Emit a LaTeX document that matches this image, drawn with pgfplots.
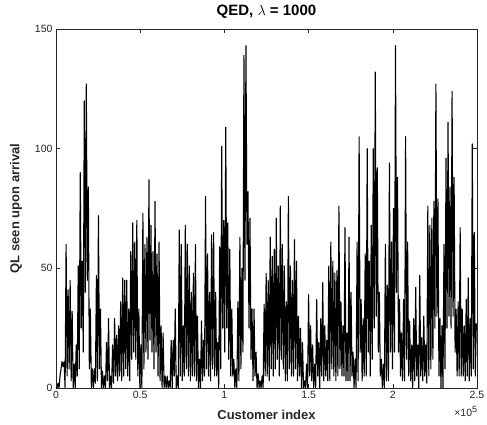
\documentclass[border=0pt]{standalone}
\usepackage{fontspec}
\setmainfont{Liberation Sans}
\usepackage{pgfplots}
\pgfplotsset{compat=1.18}
\definecolor{axgray}{gray}{0.15}
\begin{document}
\begin{tikzpicture}
\begin{axis}[name=ax, scale only axis, width=421pt, height=359pt,
  xmin=0, xmax=250000, ymin=0, ymax=150,
  xtick={0,50000,100000,150000,200000,250000},
  xticklabels={0,0.5,1,1.5,2,2.5},
  ytick={0,50,100,150},
  scaled x ticks=false,
  /pgf/number format/assume math mode=true,
  tick label style={font=\fontsize{10.5}{12}\selectfont, text=axgray},
  axis line style={axgray, line width=0.5pt},
  major tick style={axgray, line width=0.5pt},
  major tick length=4pt,
  tick align=inside,
  every axis title shift=0pt,
  title={QED, $\lambda$ = 1000},
  title style={at={(axis description cs:0.5,1.047)}, anchor=center, font=\fontsize{15}{17}\selectfont\bfseries},
  xlabel={Customer index},
  xlabel style={at={(axis description cs:0.5,-0.075)}, anchor=center, font=\fontsize{13}{15}\selectfont\bfseries, text=axgray},
  ylabel={QL seen upon arrival},
  ylabel style={at={(axis description cs:-0.095,0.5)}, anchor=center, font=\fontsize{13}{15}\selectfont\bfseries, text=axgray},
]
\addplot[black, line width=1.1pt, line join=round, mark=none] coordinates {
(0,0)(600,0)(1200,2)(1800,0)(2400,5)(3000,8)(3600,11)(4200,9)(4800,11)(5400,0)
(6000,60)(6600,5)(7200,41)(7800,8)(8400,45)(9000,3)(9600,32)(10200,0)(10800,10)(11400,0)
(12000,18)(12600,5)(13200,51)(13800,8)(14400,90)(15000,25)(15600,53)(16200,15)(16800,120)(17400,40)
(18000,127)(18600,45)(19200,84)(19800,8)(20400,33)(21000,0)(21600,8)(22200,0)(22800,8)(23400,2)
(24000,47)(24600,3)(25200,72)(25800,8)(26400,33)(27000,0)(27600,7)(28200,0)(28800,5)(29400,0)
(30000,19)(30600,3)(31200,29)(31800,0)(32400,5)(33000,0)(33600,18)(34200,2)(34800,29)(35400,5)
(36000,22)(36600,3)(37200,26)(37800,5)(38400,36)(39000,3)(39600,46)(40200,5)(40800,45)(41400,8)
(42000,45)(42600,5)(43200,33)(43800,3)(44400,57)(45000,12)(45600,69)(46200,15)(46800,61)(47400,12)
(48000,70)(48600,5)(49200,33)(49800,0)(50400,18)(51000,0)(51600,73)(52200,8)(52800,60)(53400,15)
(54000,63)(54600,12)(55200,87)(55800,20)(56400,68)(57000,15)(57600,57)(58200,8)(58800,78)(59400,15)
(60000,56)(60600,5)(61200,61)(61800,3)(62400,26)(63000,0)(63600,23)(64200,0)(64800,5)(65400,0)
(66000,5)(66600,0)(67200,3)(67800,0)(68400,20)(69000,0)(69600,20)(70200,5)(70800,33)(71400,0)
(72000,5)(72600,0)(73200,66)(73800,5)(74400,60)(75000,3)(75600,26)(76200,5)(76800,68)(77400,8)
(78000,60)(78600,5)(79200,51)(79800,3)(80400,40)(81000,5)(81600,48)(82200,5)(82800,60)(83400,3)
(84000,30)(84600,0)(85200,12)(85800,0)(86400,28)(87000,3)(87600,20)(88200,5)(88800,80)(89400,8)
(90000,56)(90600,5)(91200,40)(91800,3)(92400,64)(93000,8)(93600,65)(94200,5)(94800,40)(95400,5)
(96000,19)(96600,0)(97200,59)(97800,8)(98400,101)(99000,25)(99600,70)(100200,15)(100800,109)(101400,25)
(102000,69)(102600,12)(103200,58)(103800,5)(104400,33)(105000,5)(105600,12)(106200,0)(106800,8)(107400,0)
(108000,36)(108600,3)(109200,63)(109800,8)(110400,50)(111000,15)(111600,139)(112200,45)(112800,143)(113400,60)
(114000,82)(114600,25)(115200,71)(115800,12)(116400,33)(117000,3)(117600,33)(118200,5)(118800,15)(119400,0)
(120000,6)(120600,0)(121200,3)(121800,0)(122400,5)(123000,0)(123600,35)(124200,5)(124800,48)(125400,5)
(126000,45)(126600,3)(127200,63)(127800,8)(128400,55)(129000,5)(129600,58)(130200,8)(130800,71)(131400,12)
(132000,51)(132600,5)(133200,76)(133800,12)(134400,60)(135000,8)(135600,51)(136200,3)(136800,36)(137400,3)
(138000,80)(138600,8)(139200,51)(139800,5)(140400,45)(141000,5)(141600,62)(142200,8)(142800,53)(143400,3)
(144000,30)(144600,5)(145200,25)(145800,0)(146400,19)(147000,0)(147600,3)(148200,0)(148800,10)(149400,0)
(150000,39)(150600,5)(151200,26)(151800,3)(152400,18)(153000,0)(153600,10)(154200,0)(154800,37)(155400,5)
(156000,19)(156600,0)(157200,29)(157800,5)(158400,44)(159000,3)(159600,26)(160200,5)(160800,20)(161400,3)
(162000,51)(162600,3)(163200,61)(163800,8)(164400,53)(165000,5)(165600,48)(166200,3)(166800,49)(167400,5)
(168000,76)(168600,8)(169200,36)(169800,5)(170400,26)(171000,5)(171600,67)(172200,3)(172800,23)(173400,3)
(174000,63)(174600,3)(175200,40)(175800,5)(176400,15)(177000,0)(177600,12)(178200,0)(178800,61)(179400,3)
(180000,105)(180600,15)(181200,37)(181800,3)(182400,29)(183000,5)(183600,56)(184200,5)(184800,100)(185400,15)
(186000,53)(186600,5)(187200,68)(187800,12)(188400,100)(189000,25)(189600,132)(190200,30)(190800,92)(191400,15)
(192000,40)(192600,5)(193200,12)(193800,0)(194400,10)(195000,0)(195600,60)(196200,3)(196800,43)(197400,3)
(198000,94)(198600,15)(199200,61)(199800,8)(200400,75)(201000,15)(201600,143)(202200,40)(202800,88)(203400,15)
(204000,37)(204600,5)(205200,23)(205800,3)(206400,37)(207000,3)(207600,105)(208200,12)(208800,61)(209400,5)
(210000,28)(210600,3)(211200,18)(211800,0)(212400,29)(213000,3)(213600,42)(214200,5)(214800,18)(215400,0)
(216000,47)(216600,5)(217200,21)(217800,3)(218400,30)(219000,5)(219600,18)(220200,2)(220800,76)(221400,5)
(222000,68)(222600,8)(223200,71)(223800,12)(224400,78)(225000,25)(225600,127)(226200,30)(226800,79)(227400,5)
(228000,29)(228600,0)(229200,26)(229800,0)(230400,60)(231000,8)(231600,96)(232200,25)(232800,111)(233400,30)
(234000,84)(234600,25)(235200,124)(235800,30)(236400,88)(237000,15)(237600,33)(238200,5)(238800,36)(239400,5)
(240000,67)(240600,5)(241200,33)(241800,5)(242400,26)(243000,3)(243600,37)(244200,5)(244800,46)(245400,3)
(246000,29)(246600,5)(247200,102)(247800,8)(248400,65)(249000,5)(249600,27)
};
\end{axis}
\node[font=\fontsize{10.5}{12}\selectfont, text=axgray] at ([shift={(-11pt,-23pt)}]ax.south east) {×10\textsuperscript{\fontsize{9}{10}\selectfont 5}};
\pgfresetboundingbox
\path[use as bounding box] ([shift={(-56pt,-37pt)}]ax.south west) rectangle ([shift={(10pt,29pt)}]ax.north east);
\end{tikzpicture}
\end{document}
